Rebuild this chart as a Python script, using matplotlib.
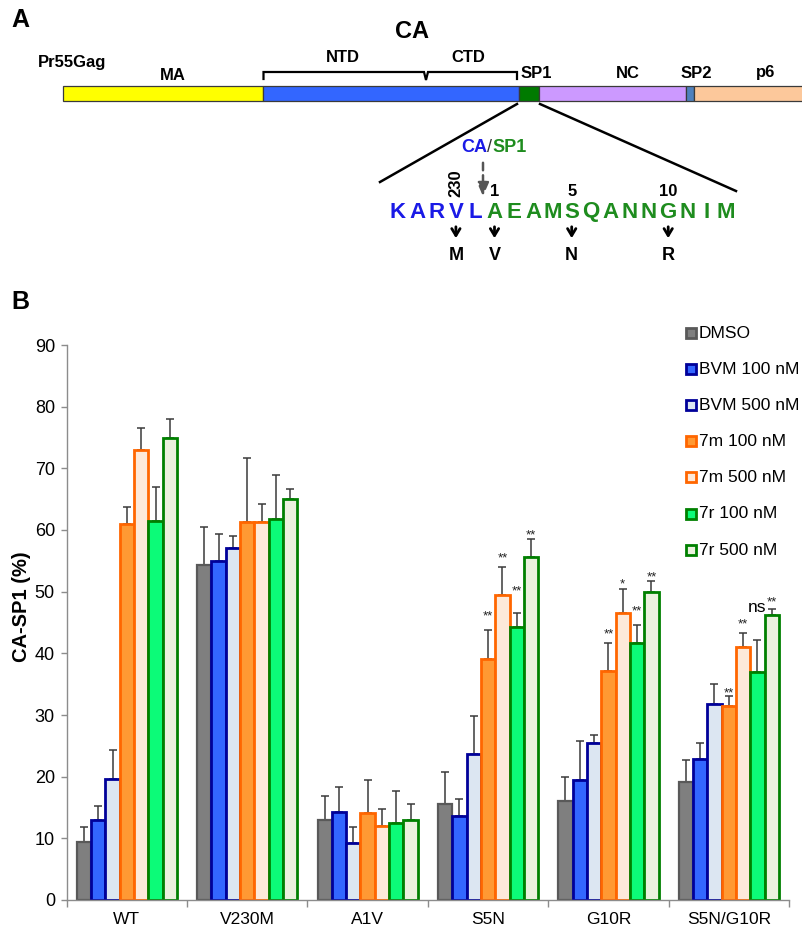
import numpy as np
import matplotlib
matplotlib.use('Agg')
import matplotlib.pyplot as plt
from matplotlib.patches import Rectangle

plt.rcParams['font.family'] = ['Liberation Sans', 'DejaVu Sans']

# Panel B data (CA-SP1 %)
groups = ['WT', 'V230M', 'A1V', 'S5N', 'G10R', 'S5N/G10R']
labels = ['DMSO', 'BVM 100 nM', 'BVM 500 nM', '7m 100 nM', '7m 500 nM',
          '7r 100 nM', '7r 500 nM']

dmso = [9.4, 54.4, 13.0, 15.5, 16.1, 19.2]
bvm100 = [12.9, 55.0, 14.3, 13.6, 19.5, 22.9]
bvm500 = [19.7, 57.1, 9.3, 23.7, 25.4, 31.8]
m7_100 = [61.0, 61.3, 14.1, 39.1, 37.2, 31.5]
m7_500 = [72.9, 61.3, 12.0, 49.5, 46.6, 41.0]
r7_100 = [61.5, 61.8, 12.5, 44.3, 41.6, 37.0]
r7_500 = [74.9, 65.0, 13.0, 55.7, 50.0, 46.2]

dmso_err = [2.4, 6.1, 3.9, 5.2, 3.8, 3.5]
bvm100_err = [2.3, 4.4, 4.1, 2.8, 6.3, 2.6]
bvm500_err = [4.6, 1.9, 2.6, 6.2, 1.3, 3.2]
m7_100_err = [2.7, 10.4, 5.3, 4.7, 4.5, 1.6]
m7_500_err = [3.6, 2.9, 2.8, 4.5, 3.8, 2.3]
r7_100_err = [5.5, 7.2, 5.2, 2.3, 3.0, 5.2]
r7_500_err = [3.1, 1.6, 2.6, 2.8, 1.7, 1.0]

# significance marks: (group, series, text, y)
sig_groups = [3, 3, 3, 3, 4, 4, 4, 4, 5, 5, 5, 5]
sig_series = [3, 4, 5, 6, 3, 4, 5, 6, 3, 4, 5, 6]
sig_text = ['**', '**', '**', '**', '**', '*', '**', '**', '**', '**', 'ns', '**']
sig_y = [46.3, 55.7, 50.3, 59.4, 43.3, 51.5, 47.1, 52.7, 33.8, 45.0, 47.5, 48.5]

values = [dmso, bvm100, bvm500, m7_100, m7_500, r7_100, r7_500]
errors = [dmso_err, bvm100_err, bvm500_err, m7_100_err, m7_500_err,
          r7_100_err, r7_500_err]
faces = ['#7f7f7f', '#3366ff', '#dce6f2', '#ff9933', '#fde9d9', '#0cfb78', '#ebf1de']
edges = ['#595959', '#000099', '#000099', '#ff6600', '#ff6600', '#008000', '#008000']

W, H = 803, 932
fig = plt.figure(figsize=(W / 100, H / 100), dpi=100)

# ---------------- Panel B: bar chart ----------------
ax = fig.add_axes([66.7 / W, 32 / H, (789 - 66.7) / W, 555 / H])
x = np.arange(len(groups))
w = 0.119
for i in range(7):
    pos = x + (i - 3) * w
    ax.bar(pos, values[i], w, color=faces[i], edgecolor=edges[i],
           linewidth=2 if i else 1.6, zorder=2)
    ax.errorbar(pos, values[i], yerr=[np.zeros(len(groups)), errors[i]],
                fmt='none', ecolor='#3a3a3a', elinewidth=1.1, capsize=2.6,
                capthick=1.1, zorder=1)

for g, s, t, yv in zip(sig_groups, sig_series, sig_text, sig_y):
    xs = x[g] + (s - 3) * w
    if t == 'ns':
        ax.text(xs, yv - 0.75, t, ha='center', va='baseline', fontsize=12.5)
    else:
        ax.text(xs, yv - 0.8, t, ha='center', va='baseline', fontsize=9.5,
                color='#222222')

ax.set_xlim(-0.5, 5.5)
ax.set_ylim(0, 90)
ax.set_yticks(np.arange(0, 91, 10))
ax.set_xticks(x)
ax.set_xticklabels(groups, fontsize=12.5)
ax.set_xticks(np.arange(-0.5, 6, 1), minor=True)
ax.tick_params(axis='x', which='major', length=0, pad=9)
ax.tick_params(axis='x', which='minor', length=5, color='#8c8c8c', width=1)
ax.tick_params(axis='y', length=4.5, color='#8c8c8c', width=1, labelsize=13, pad=4)
for side in ['top', 'right']:
    ax.spines[side].set_visible(False)
for side in ['left', 'bottom']:
    ax.spines[side].set_color('#8c8c8c')
    ax.spines[side].set_linewidth(1)

# ---------------- overlay for panel A, labels and legend ----------------
ov = fig.add_axes([0, 0, 1, 1])
ov.set_xlim(0, W)
ov.set_ylim(H, 0)
ov.axis('off')

ov.text(20, 20, 'A', fontsize=18, fontweight='bold', ha='center', va='center')
ov.text(20, 302, 'B', fontsize=18, fontweight='bold', ha='center', va='center')
ov.text(22, 607, 'CA-SP1 (%)', fontsize=14.5, fontweight='bold', rotation=90,
        ha='center', va='center')

# legend
for i in range(7):
    ly = 333 + i * 36.2
    ov.add_patch(Rectangle((686.5, ly - 5.5), 10, 10, facecolor=faces[i],
                           edgecolor=edges[i], linewidth=2, clip_on=False))
    ov.text(699, ly, labels[i], fontsize=12.5, va='center', ha='left')

# Gag bar
seg_names = ['MA', 'CA', 'SP1', 'NC', 'SP2', 'p6']
seg_start = [63, 263, 519, 539, 686, 694]
seg_end = [263, 519, 539, 686, 694, 830]
seg_col = ['#ffff00', '#3366ff', '#007a00', '#cc99ff', '#4f81bd', '#fcc89b']
for s0, s1, c in zip(seg_start, seg_end, seg_col):
    ov.add_patch(Rectangle((s0, 86), s1 - s0, 14.5, facecolor=c,
                           edgecolor='#3a3a3a', linewidth=0.9))

lab_kw = dict(fontsize=12, fontweight='bold', ha='center', va='center')
ov.text(72, 63, 'Pr55Gag', **lab_kw)
ov.text(173, 75, 'MA', **lab_kw)
ov.text(343, 58, 'NTD', **lab_kw)
ov.text(468, 58, 'CTD', **lab_kw)
ov.text(536, 74, 'SP1', **lab_kw)
ov.text(628, 74, 'NC', **lab_kw)
ov.text(696, 74, 'SP2', **lab_kw)
ov.text(766, 72, 'p6', **lab_kw)
ov.text(412, 32, 'CA', fontsize=17, fontweight='bold', ha='center', va='center')

# brackets
ov.plot([263.5, 263.5, 424, 426, 428, 517, 517],
        [79, 72, 72, 80, 72, 72, 79], color='k', lw=1.6, solid_joinstyle='miter')

# zoom lines
ov.plot([517, 380], [104, 182], color='k', lw=1.8)
ov.plot([540, 736], [104, 191], color='k', lw=1.8)

# sequence
seq = 'KARVLAEAMSQANNGNIM'
seq_x = [398 + i * 19.3 for i in range(len(seq))]
for i, ch in enumerate(seq):
    ov.text(seq_x[i], 212, ch, fontsize=16, fontweight='bold', ha='center',
            va='center', color='#1a1ae6' if i < 5 else '#1e8c1e')

ov.text(487, 147, 'CA', fontsize=13, fontweight='bold', ha='right', va='center',
        color='#1a1ae6')
ov.text(487, 147, '/', fontsize=13, ha='left', va='center', color='#333333')
ov.text(492, 147, 'SP1', fontsize=13, fontweight='bold', ha='left', va='center',
        color='#1e8c1e')
ov.annotate('', xy=(483, 199), xytext=(483, 160),
            arrowprops=dict(arrowstyle='-|>,head_length=0.8,head_width=0.35',
                            color='#555555', lw=1.8, linestyle=(0, (3, 2))))

mut_idx = [3, 5, 9, 14]
mut_num = ['230', '1', '5', '10']
mut_to = ['M', 'V', 'N', 'R']
for k, n, t in zip(mut_idx, mut_num, mut_to):
    xm = seq_x[k]
    if n == '230':
        ov.text(xm, 183, n, fontsize=12, fontweight='bold', rotation=90,
                ha='center', va='center')
    else:
        ov.text(xm, 192, n, fontsize=12, fontweight='bold', ha='center', va='center')
    ov.annotate('', xy=(xm, 241), xytext=(xm, 224),
                arrowprops=dict(arrowstyle='->,head_length=0.5,head_width=0.3',
                                color='k', lw=2))
    ov.text(xm, 255, t, fontsize=13, fontweight='bold', ha='center', va='center')

fig.savefig('out.png', dpi=100)
